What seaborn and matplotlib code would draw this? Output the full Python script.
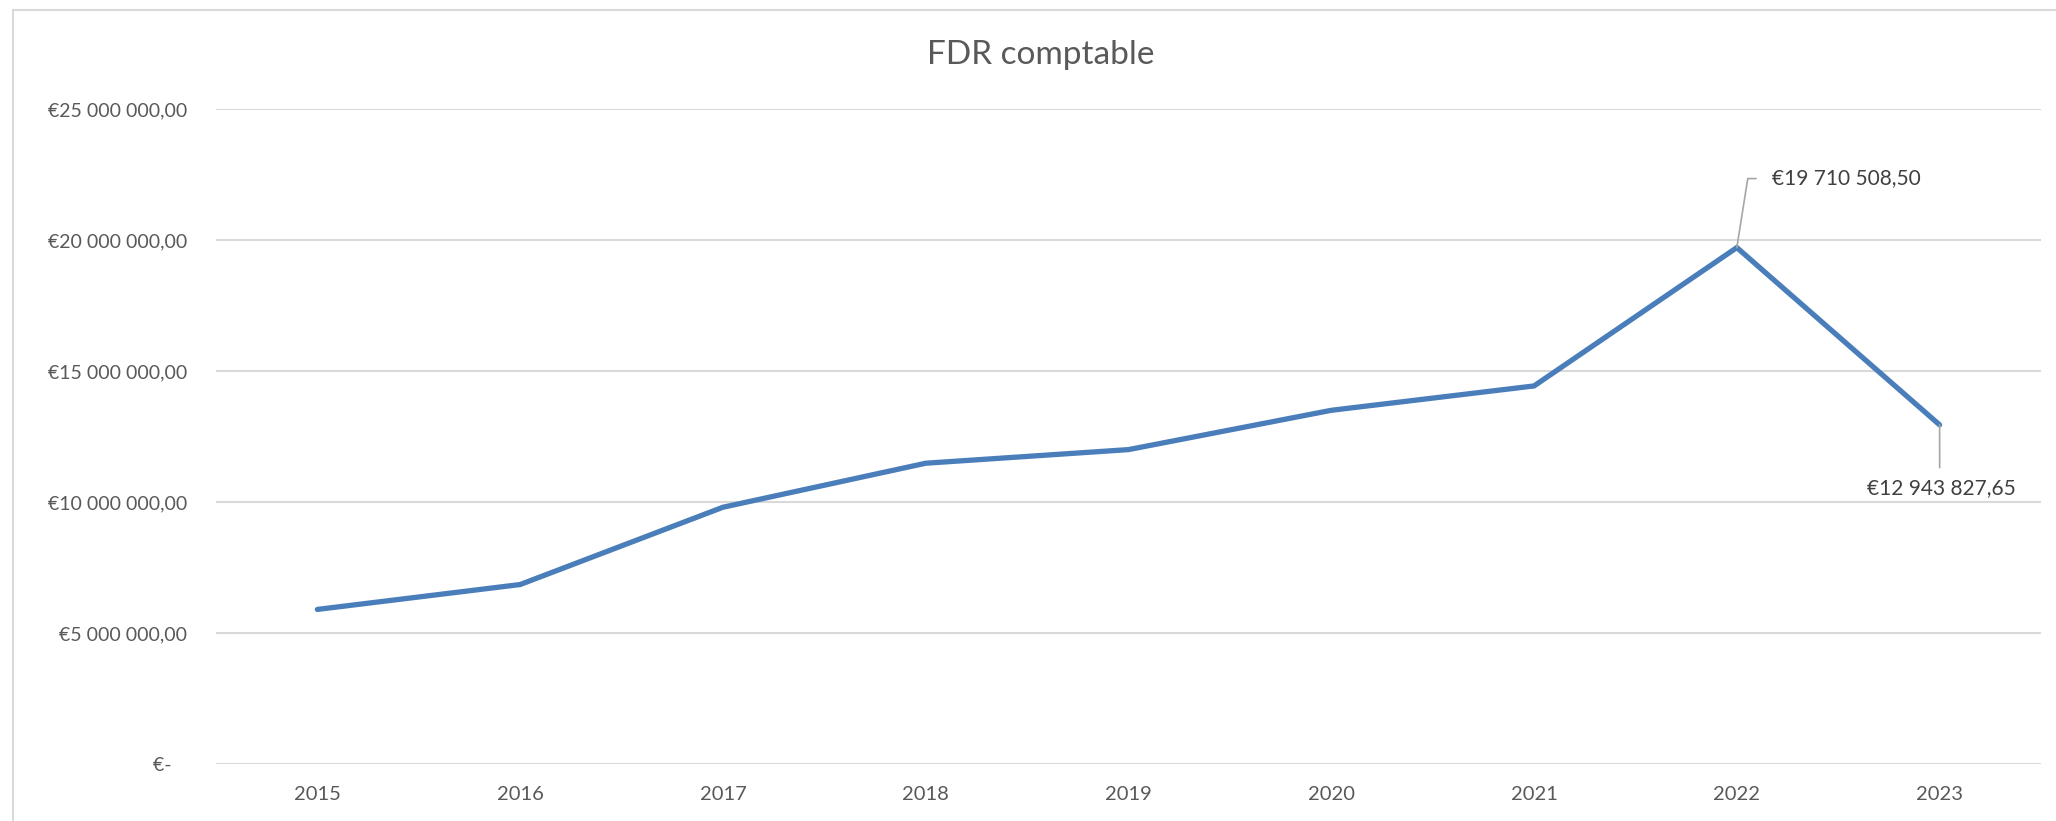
import matplotlib
matplotlib.use("Agg")
import matplotlib.pyplot as plt
import matplotlib.ticker as mticker
from matplotlib.patches import Rectangle
import seaborn as sns
import pandas as pd

# valeurs
years = [2015, 2016, 2017, 2018, 2019, 2020, 2021, 2022, 2023]
fdr = [5900000, 6850000, 9800000, 11480000, 12000000, 13500000, 14430000,
       19710508.50, 12943827.65]
y_ticks = [0, 5000000, 10000000, 15000000, 20000000, 25000000]

df = pd.DataFrame({"annee": years, "fdr": fdr})

sns.set_theme(style="white")
plt.rcParams["font.family"] = ["Lato", "DejaVu Sans"]

W, H = 2056, 821
fig = plt.figure(figsize=(W / 100, H / 100), dpi=100)
ax = fig.add_axes([216 / W, 1 - 764 / H, (2041 - 216) / W, (764 - 109) / H])

# cadre du graphique (bord gauche et haut visibles)
fig.add_artist(Rectangle((13 / W, -0.2), 1.2, 1.2 - 10 / H, transform=fig.transFigure,
                         fill=False, edgecolor="#d9d9d9", linewidth=1.5))

sns.lineplot(data=df, x="annee", y="fdr", ax=ax, color="#4a7ebb", linewidth=3.8,
             solid_capstyle="round", solid_joinstyle="miter")

ax.set_xlim(years[0] - 0.5, years[-1] + 0.5)
ax.set_ylim(y_ticks[0], y_ticks[-1])
ax.set_xticks(years)
ax.set_yticks(y_ticks)


def euro(v, pos):
    if v == 0:
        return "€-   "
    return "€" + f"{v:,.2f}".replace(",", " ").replace(".", ",")


ax.yaxis.set_major_formatter(mticker.FuncFormatter(euro))
ax.grid(axis="y", color="#d9d9d9", linewidth=1.5)
ax.set_axisbelow(True)
for s in ax.spines.values():
    s.set_visible(False)
ax.tick_params(axis="y", length=0, pad=21, labelsize=14, labelcolor="#595959")
ax.tick_params(axis="x", length=0, pad=16, labelsize=14.5, labelcolor="#595959")
ax.set_xlabel("")
ax.set_ylabel("")

fig.text(1041 / W, 1 - 55 / H, "FDR comptable", ha="center", va="center",
         fontsize=24, color="#595959")

# étiquettes de données
lab = lambda v: "€" + f"{v:,.2f}".replace(",", " ").replace(".", ",")
ax.annotate(lab(fdr[7]), xy=(years[7], fdr[7]), xytext=(35, 69), textcoords="offset pixels",
            ha="left", va="center", fontsize=15, color="#404040",
            arrowprops=dict(arrowstyle="-", color="#a6a6a6", lw=1.2, shrinkA=9, shrinkB=0,
                            relpos=(0, 0.5), connectionstyle="angle,angleA=180,angleB=81,rad=0"))
ax.annotate(lab(fdr[8]), xy=(years[8], fdr[8]), xytext=(2, -63), textcoords="offset pixels",
            ha="center", va="center", fontsize=15, color="#404040",
            arrowprops=dict(arrowstyle="-", color="#a6a6a6", lw=1.2, shrinkA=5, shrinkB=0,
                            relpos=(0.487, 1)))

fig.savefig("out.png", dpi=100, facecolor="white")
